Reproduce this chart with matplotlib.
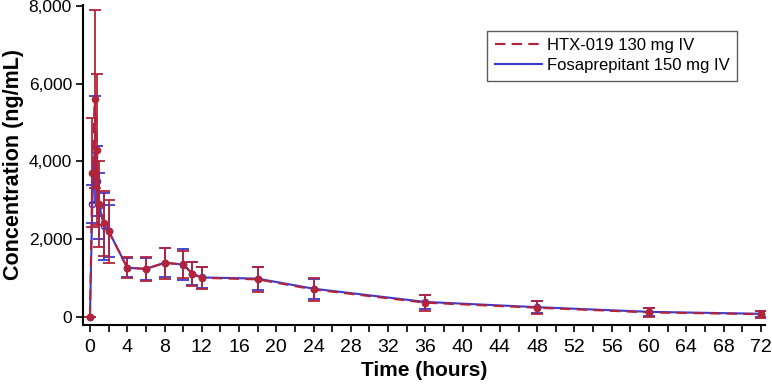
import matplotlib
matplotlib.use("Agg")
import matplotlib.pyplot as plt
from matplotlib.ticker import FixedLocator, FuncFormatter
from matplotlib.lines import Line2D

time_h = [0, 0.25, 0.5, 0.75, 1, 1.5, 2, 4, 6, 8, 10, 11, 12, 18, 24, 36, 48, 60, 72]

htx_mean = [0, 3700, 5600, 4300, 2900, 2400, 2200, 1260, 1230, 1380, 1350, 1100, 1000, 960, 700, 360, 230, 110, 65]
htx_sd   = [0, 1400, 2300, 1950, 1100, 840, 810, 265, 300, 400, 350, 320, 280, 330, 300, 210, 170, 120, 90]

fos_mean = [0, 2900, 4300, 3500, 2850, 2330, 2210, 1260, 1230, 1390, 1340, 1110, 1010, 980, 720, 380, 245, 125, 75]
fos_sd   = [0, 500, 1380, 900, 860, 860, 670, 250, 280, 380, 400, 300, 270, 290, 260, 180, 150, 110, 80]

labels = ["HTX-019 130 mg IV", "Fosaprepitant 150 mg IV"]
x_ticks = list(range(0, 73, 2))
y_ticks = [0, 2000, 4000, 6000, 8000]

red = "#B3243A"
blue = "#3A3AD0"
sans = ["Liberation Sans", "DejaVu Sans"]
narrow = ["Liberation Sans Narrow", "Liberation Sans", "DejaVu Sans"]

fig = plt.figure(figsize=(7.72, 3.84), dpi=100)
ax = fig.add_axes([0.1075, 0.154, 0.884, 0.833])

ax.errorbar(time_h, htx_mean, yerr=htx_sd, color=red, ls=(0, (5, 3)), lw=1.5,
            marker='o', ms=4.5, mfc=red, mec=red, ecolor=red, elinewidth=1.3,
            capsize=4, capthick=1.3, zorder=3)
ax.errorbar(time_h, fos_mean, yerr=fos_sd, color=blue, ls='-', lw=1.5,
            marker='o', ms=4.5, mfc='none', mec=blue, ecolor=blue, elinewidth=1.3,
            capsize=4, capthick=1.3, zorder=2)

ax.set_xlim(-0.75, 72.5)
ax.set_ylim(-210, 8020)
ax.xaxis.set_major_locator(FixedLocator(x_ticks))
ax.xaxis.set_major_formatter(FuncFormatter(lambda v, p: f"{int(v)}" if int(v) % 4 == 0 else ""))
ax.yaxis.set_major_locator(FixedLocator(y_ticks))
ax.yaxis.set_major_formatter(FuncFormatter(lambda v, p: f"{int(v):,}"))

for s in ["top", "right"]:
    ax.spines[s].set_visible(False)
for s in ["left", "bottom"]:
    ax.spines[s].set_linewidth(1.5)

ax.tick_params(axis='both', direction='out', length=5, width=1.2, colors='black')
ax.tick_params(axis='x', pad=5)
ax.tick_params(axis='y', pad=3)
for lab in ax.get_xticklabels():
    lab.set_fontfamily(narrow)
    lab.set_fontsize(14)
for lab in ax.get_yticklabels():
    lab.set_fontfamily(sans)
    lab.set_fontsize(12.5)

ax.set_xlabel("Time (hours)", fontsize=15, fontweight='bold', family=sans, labelpad=4)
ax.set_ylabel("Concentration (ng/mL)", fontsize=15.5, fontweight='bold', family=sans, labelpad=3)

handles = [Line2D([0], [0], color=red, ls=(0, (5, 3)), lw=1.5),
           Line2D([0], [0], color=blue, ls='-', lw=1.5)]
leg = ax.legend(handles, labels, loc='upper right',
                bbox_to_anchor=(0.963, 0.93), frameon=True, fancybox=False,
                edgecolor='#333333', prop={'family': sans, 'size': 12},
                handlelength=2.8, handletextpad=0.3, borderpad=0.45, labelspacing=0.3,
                borderaxespad=0.2)
leg.get_frame().set_linewidth(1.0)

fig.savefig("out.png", dpi=100)
